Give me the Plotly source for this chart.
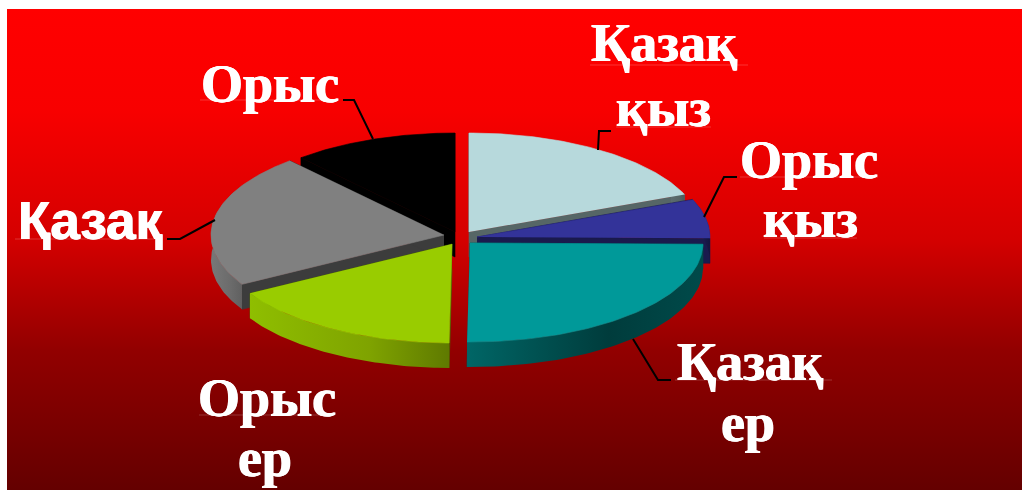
import math
import plotly.graph_objects as go

labels = ["Қазақ қыз", "Орыс қыз", "Қазақ ер", "Орыс ер", "Қазақ", "Орыс"]
values = [18.8, 6.4, 25.0, 16.5, 21.8, 11.5]
top_colors = ["#b7d9dc", "#333399", "#009999", "#99cc00", "#808080", "#000000"]
cut_colors = ["#566666", "#1a1a4d", "#004d4d", "#4d6600", "#3c3c3c", "#000000"]
wall_left = ["#5c6c6e", "#1a1a4d", "#006666", "#8fbe00", "#787878", "#000000"]
wall_mid = ["#566666", "#1a1a4d", "#003c3c", "#7fa300", "#6c6c6c", "#000000"]
wall_right = ["#4c5a5c", "#14143f", "#004a4a", "#5f7a00", "#606060", "#000000"]

# exploded centre of each slice, in page pixels
centres = [(469, 232), (477, 237), (470, 243), (452, 244), (444, 235), (455, 232)]
RX, RY, DEPTH = 233, 99, 25

bg_y = [9, 110, 240, 350, 490]
bg_c = ["#ff0000", "#f80000", "#d40000", "#920000", "#640000"]

text_items = [
    ("Қазақ", 664, 43, "Liberation Serif", 54),
    ("қыз", 663, 108, "Liberation Serif", 54),
    ("Орыс", 809, 160, "Liberation Serif", 54),
    ("қыз", 810, 219, "Liberation Serif", 54),
    ("Орыс", 270, 84, "Liberation Serif", 54),
    ("Қазақ", 90, 220, "Liberation Sans", 53),
    ("Қазақ", 750, 362, "Liberation Serif", 54),
    ("ер", 748, 423, "Liberation Serif", 54),
    ("Орыс", 267, 398, "Liberation Serif", 54),
    ("ер", 265, 458, "Liberation Serif", 54),
]
leaders = [
    ([343, 354, 373], [100, 100, 139]),
    ([167, 180, 215], [239, 239, 220]),
    ([611, 599, 598], [131, 131, 150]),
    ([737, 724, 704], [177, 177, 217]),
    ([633, 658, 671], [339, 380, 380]),
]
baselines = [
    (590, 748, 65), (616, 711, 127), (740, 878, 177), (764, 857, 238),
    (200, 337, 100), (15, 162, 239), (675, 832, 380), (199, 335, 415),
]

fig = go.Figure()


def poly(xs, ys, color=None, gradient=None):
    if gradient:
        kw = {"fillgradient": gradient, "line": dict(width=0)}
    else:
        kw = {"fillcolor": color, "line": dict(width=0.6, color=color)}
    fig.add_trace(go.Scatter(x=xs, y=ys, mode="lines", fill="toself",
                             hoverinfo="skip", showlegend=False, **kw))


def pt(c, deg, dy=0):
    r = math.radians(deg)
    return c[0] + RX * math.sin(r), c[1] - RY * math.cos(r) + dy


# background
poly([7, 1022, 1022, 7], [9, 9, 490, 490],
     gradient=dict(type="vertical", start=9, stop=490,
                   colorscale=[[(y - 9) / 481, c] for y, c in zip(bg_y, bg_c)]))

# slice angles from the values
total = sum(values)
bounds = [0]
for v in values:
    bounds.append(bounds[-1] + v / total * 360)

draw_order = [5, 4, 0, 1, 2, 3]
for i in draw_order:
    c, a0, a1 = centres[i], bounds[i], bounds[i + 1]
    n = 80
    angs = [a0 + (a1 - a0) * k / n for k in range(n + 1)]
    top = [pt(c, a) for a in angs]
    # cut face at the end edge and at the start edge
    for edge in (a0, a1):
        e = pt(c, edge)
        poly([c[0], e[0], e[0], c[0]],
             [c[1], e[1], e[1] + DEPTH, c[1] + DEPTH], color=cut_colors[i])
    # outer curved wall
    wall_angs = [a for a in angs if 60 <= a <= 300]
    if wall_angs:
        up = [pt(c, a) for a in wall_angs]
        lo = [pt(c, a, DEPTH) for a in reversed(wall_angs)]
        xs = [p[0] for p in up + lo]
        ys = [p[1] for p in up + lo]
        poly(xs, ys, gradient=dict(
            type="horizontal", start=min(xs), stop=max(xs),
            colorscale=[[0, wall_left[i]], [0.6, wall_mid[i]], [1, wall_right[i]]]))
    # top face
    poly([c[0]] + [p[0] for p in top], [c[1]] + [p[1] for p in top], color=top_colors[i])

# leader lines
for xs, ys in leaders:
    fig.add_trace(go.Scatter(x=xs, y=ys, mode="lines", line=dict(color="#000000", width=2),
                             hoverinfo="skip", showlegend=False))

shapes = [dict(type="line", x0=a, x1=b, y0=y, y1=y, xref="x", yref="y",
               line=dict(color="rgba(255,255,255,0.2)", width=1))
          for a, b, y in baselines]

annotations = [dict(text="<b>%s</b>" % t, x=x, y=y, xref="x", yref="y", showarrow=False,
                    xanchor="center", yanchor="middle",
                    font=dict(family=f, size=s, color="#ffffff",
                              shadow="0.6px 0 0 #ffffff, -0.6px 0 0 #ffffff"))
               for t, x, y, f, s in text_items]

fig.update_layout(
    width=1022, height=490, margin=dict(l=0, r=0, t=0, b=0),
    paper_bgcolor="#ffffff", plot_bgcolor="#ffffff",
    xaxis=dict(range=[0, 1022], visible=False, fixedrange=True),
    yaxis=dict(range=[490, 0], visible=False, fixedrange=True),
    shapes=shapes, annotations=annotations, showlegend=False,
)
fig.write_html("out.html", config={"displayModeBar": False},
               post_script="document.body.style.margin='0';document.body.style.overflow='hidden';")
